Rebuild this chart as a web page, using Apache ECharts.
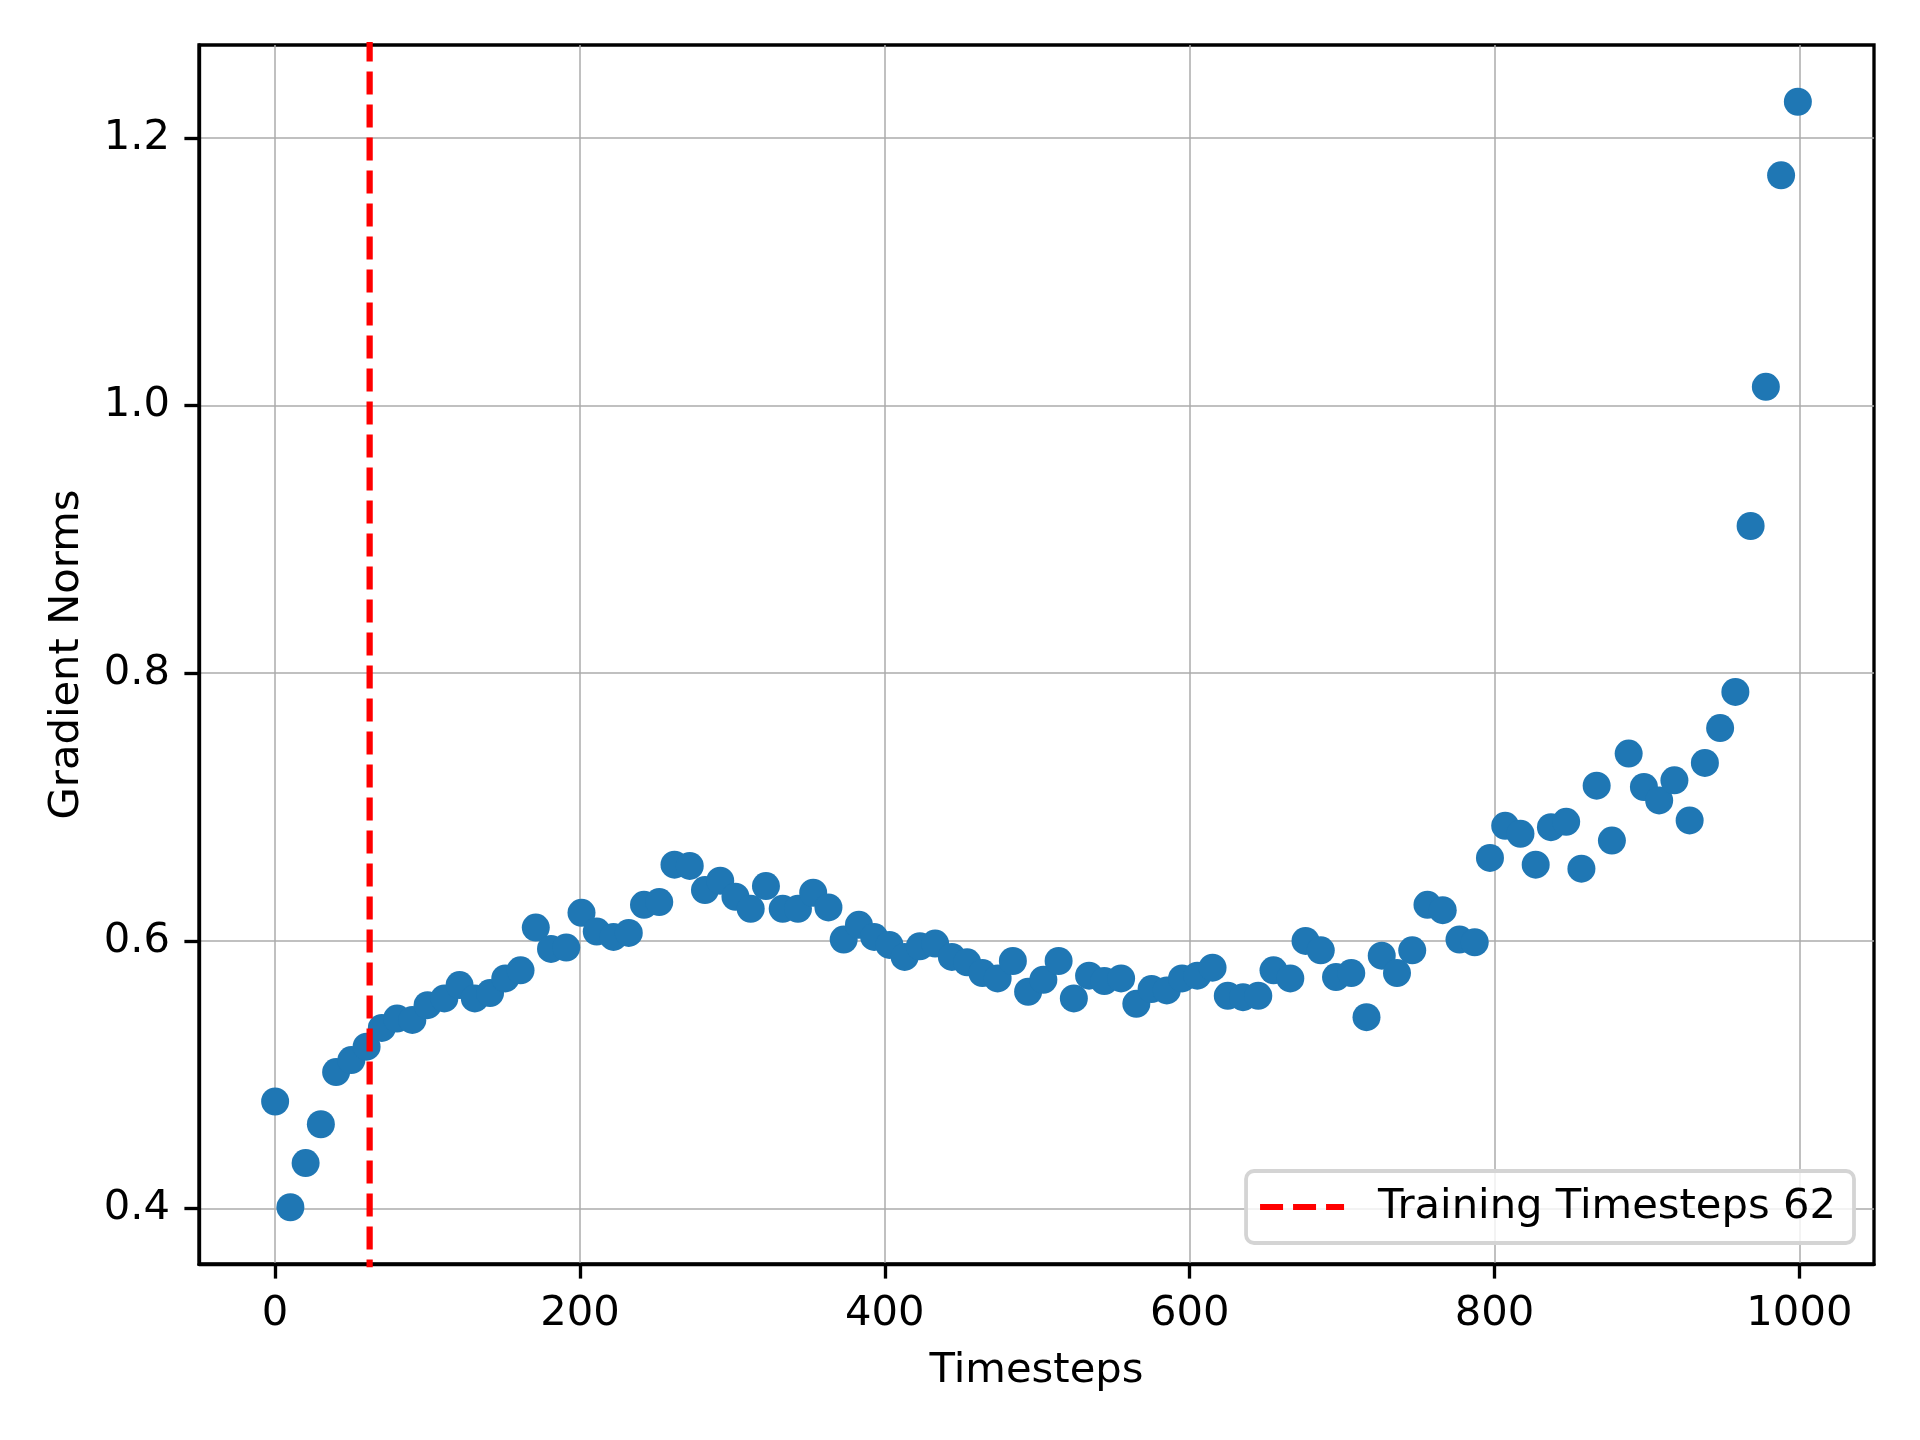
<!DOCTYPE html>
<html>
<head>
<meta charset="utf-8">
<script src="https://cdn.jsdelivr.net/npm/echarts@6/dist/echarts.min.js"></script>
<style>
  html, body { margin: 0; padding: 0; background: #ffffff; }
  #chart { width: 1920px; height: 1440px; }
</style>
</head>
<body>
<div id="chart"></div>
<script>
// ---- data ----
const timesteps = [
  0, 10, 20, 30, 40, 50, 60, 70, 80, 90,
  100, 111, 121, 131, 141, 151, 161, 171, 181, 191,
  201, 211, 222, 232, 242, 252, 262, 272, 282, 292,
  302, 312, 322, 333, 343, 353, 363, 373, 383, 393,
  403, 413, 423, 433, 444, 454, 464, 474, 484, 494,
  504, 514, 524, 534, 544, 555, 565, 575, 585, 595,
  605, 615, 625, 635, 645, 655, 666, 676, 686, 696,
  706, 716, 726, 736, 746, 756, 766, 777, 787, 797,
  807, 817, 827, 837, 847, 857, 867, 877, 888, 898,
  908, 918, 928, 938, 948, 958, 968, 978, 988, 999
];
const gradientNorms = [
  0.480, 0.401, 0.434, 0.463, 0.502, 0.511, 0.521, 0.535, 0.542, 0.541,
  0.552, 0.557, 0.567, 0.557, 0.561, 0.572, 0.578, 0.610, 0.594, 0.595,
  0.621, 0.607, 0.603, 0.606, 0.627, 0.629, 0.657, 0.656, 0.638, 0.645,
  0.633, 0.624, 0.641, 0.624, 0.624, 0.636, 0.625, 0.601, 0.612, 0.603,
  0.597, 0.588, 0.596, 0.598, 0.588, 0.584, 0.576, 0.572, 0.585, 0.562,
  0.571, 0.585, 0.557, 0.574, 0.570, 0.572, 0.553, 0.564, 0.563, 0.572,
  0.574, 0.580, 0.559, 0.558, 0.559, 0.578, 0.572, 0.600, 0.593, 0.573,
  0.576, 0.543, 0.589, 0.576, 0.593, 0.627, 0.623, 0.601, 0.599, 0.662,
  0.686, 0.680, 0.657, 0.685, 0.689, 0.654, 0.716, 0.675, 0.740, 0.715,
  0.705, 0.720, 0.690, 0.733, 0.759, 0.786, 0.910, 1.014, 1.172, 1.227
];
const trainingTimestep = 62;
const legendLabel = 'Training Timesteps 62';
const xTicks = [0, 200, 400, 600, 800, 1000];
const yTicks = [0.4, 0.6, 0.8, 1.0, 1.2];
const xLabelName = 'Timesteps';
const yLabelName = 'Gradient Norms';

// ---- chart ----
const X_MIN = -49.95, X_MAX = 1048.95;
const Y_MIN = 0.3586, Y_MAX = 1.2694;
const FONT = 'DejaVu Sans';
const FS = 41.7;
const LW = 3.33;

const points = timesteps.map((t, i) => [t, gradientNorms[i]]);
const vline = [[trainingTimestep, Y_MIN - 1], [trainingTimestep, Y_MAX + 1]];

const chart = echarts.init(document.getElementById('chart'), null, { renderer: 'canvas' });

const axisCommon = {
  axisLine: { show: true, onZero: false, lineStyle: { color: '#000', width: LW } },
  axisTick: { show: true, inside: false, length: 14.6, lineStyle: { color: '#000', width: LW } },
  splitLine: { show: true, lineStyle: { color: '#ababab', width: 1.5 } },
  nameTextStyle: { fontFamily: FONT, fontSize: FS, color: '#000' }
};

chart.setOption({
  animation: false,
  backgroundColor: '#ffffff',
  grid: {
    left: 199, right: 46, top: 45, bottom: 176,
    show: true, borderColor: '#000', borderWidth: LW, backgroundColor: 'transparent',
    containLabel: false
  },
  xAxis: Object.assign({}, axisCommon, {
    type: 'value',
    min: X_MIN, max: X_MAX,
    name: xLabelName, nameLocation: 'middle', nameGap: 86,
    axisTick: Object.assign({}, axisCommon.axisTick, { customValues: xTicks }),
    axisLabel: {
      customValues: xTicks, margin: 29,
      fontFamily: FONT, fontSize: FS, color: '#000',
      formatter: v => String(v)
    }
  }),
  yAxis: Object.assign({}, axisCommon, {
    type: 'value',
    min: Y_MIN, max: Y_MAX,
    name: yLabelName, nameLocation: 'middle', nameGap: 111, nameRotate: 90,
    axisTick: Object.assign({}, axisCommon.axisTick, { customValues: yTicks }),
    axisLabel: {
      customValues: yTicks, margin: 29,
      fontFamily: FONT, fontSize: FS, color: '#000',
      formatter: v => v.toFixed(1)
    }
  }),
  legend: {
    show: true,
    right: 66, bottom: 197,
    orient: 'vertical',
    padding: [15, 18, 15, 14],
    backgroundColor: 'rgba(255,255,255,0.8)',
    borderColor: '#d4d4d4', borderWidth: 3.8, borderRadius: 8,
    itemWidth: 84, itemHeight: 6,
    textStyle: { fontFamily: FONT, fontSize: FS, color: '#000', padding: [0, 0, 0, 29] },
    data: [{
      name: legendLabel,
      icon: 'path://M0,0h23v6h-23z M33,0h23v6h-23z M66,0h18v6h-18z',
      itemStyle: { color: '#ff0000' }
    }]
  },
  series: [
    {
      type: 'scatter',
      name: 'norms',
      data: points,
      symbol: 'circle',
      symbolSize: 28,
      itemStyle: { color: '#1f77b4', opacity: 1 },
      z: 3
    },
    {
      type: 'line',
      name: legendLabel,
      data: vline,
      symbol: 'none',
      clip: true,
      lineStyle: { color: '#ff0000', width: 6.25, type: [23, 10] },
      itemStyle: { color: '#ff0000' },
      z: 4
    }
  ]
});
</script>
</body>
</html>
